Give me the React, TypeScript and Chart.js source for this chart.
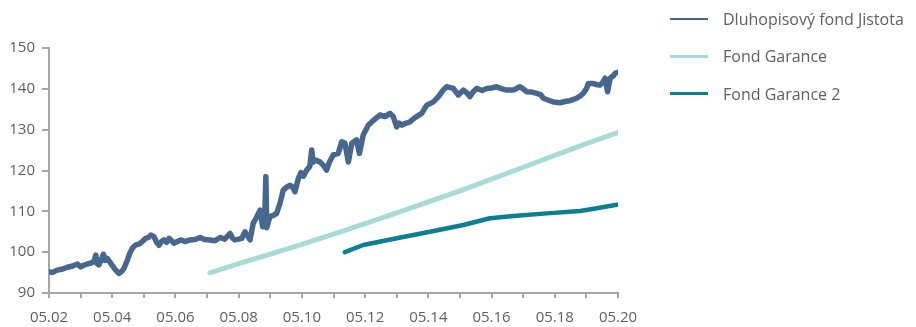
import React, { useEffect, useRef } from 'react';
import { Chart, registerables } from 'chart.js';

Chart.register(...registerables);

const seriesNames = ['Dluhopisový fond Jistota', 'Fond Garance', 'Fond Garance 2'];
const seriesColors = ['#48678f', '#a8dbd7', '#0c7f92'];

const xTicks = [2002, 2003, 2004, 2005, 2006, 2007, 2008, 2009, 2010, 2011, 2012, 2013, 2014, 2015, 2016, 2017, 2018, 2019, 2020];
const xTickLabels = ['05.02', '', '05.04', '', '05.06', '', '05.08', '', '05.10', '', '05.12', '', '05.14', '', '05.16', '', '05.18', '', '05.20'];
const yTicks = [90, 100, 110, 120, 130, 140, 150];
const yTickLabels = ['90', '100', '110', '120', '130', '140', '150'];

const jistotaX = [
  2002.00, 2002.10, 2002.26, 2002.40, 2002.58, 2002.75, 2002.90, 2003.00, 2003.10, 2003.21,
  2003.32, 2003.42, 2003.48, 2003.52, 2003.58, 2003.66, 2003.72, 2003.78, 2003.84, 2003.95,
  2004.05, 2004.11, 2004.21, 2004.30, 2004.37, 2004.48, 2004.56, 2004.64, 2004.75, 2004.85,
  2004.95, 2005.06, 2005.15, 2005.22, 2005.32, 2005.40, 2005.48, 2005.56, 2005.64, 2005.72,
  2005.80, 2005.88, 2005.95, 2006.06, 2006.17, 2006.30, 2006.46, 2006.62, 2006.78, 2006.92,
  2007.09, 2007.25, 2007.41, 2007.56, 2007.73, 2007.80, 2007.88, 2008.00, 2008.10, 2008.20,
  2008.28, 2008.36, 2008.46, 2008.55, 2008.68, 2008.76, 2008.82, 2008.86, 2008.89, 2008.94,
  2008.99, 2009.10, 2009.20, 2009.31, 2009.41, 2009.50, 2009.62, 2009.70, 2009.78, 2009.89,
  2009.97, 2010.05, 2010.15, 2010.25, 2010.31, 2010.35, 2010.41, 2010.57, 2010.68, 2010.78,
  2010.88, 2010.99, 2011.15, 2011.26, 2011.36, 2011.47, 2011.58, 2011.73, 2011.82, 2011.94,
  2012.10, 2012.21, 2012.35, 2012.47, 2012.63, 2012.79, 2012.89, 2013.00, 2013.08, 2013.16,
  2013.26, 2013.42, 2013.52, 2013.63, 2013.79, 2013.95, 2014.16, 2014.32, 2014.47, 2014.58,
  2014.70, 2014.79, 2014.95, 2015.11, 2015.22, 2015.32, 2015.42, 2015.53, 2015.70, 2015.85,
  2016.00, 2016.16, 2016.32, 2016.48, 2016.69, 2016.90, 2017.00, 2017.11, 2017.27, 2017.43,
  2017.55, 2017.64, 2017.80, 2017.95, 2018.17, 2018.32, 2018.48, 2018.69, 2018.80, 2018.90,
  2019.00, 2019.06, 2019.22, 2019.35, 2019.43, 2019.52, 2019.59, 2019.67, 2019.75, 2019.85,
  2019.91, 2019.97,
];
const jistotaY = [
  95.2, 95.0, 95.6, 95.8, 96.3, 96.6, 97.1, 96.4, 96.8, 97.1,
  97.3, 97.7, 99.3, 97.2, 96.9, 98.2, 99.5, 98.0, 98.5, 97.3,
  96.2, 95.6, 94.8, 95.3, 96.0, 98.1, 99.8, 101.0, 101.8, 102.0,
  102.6, 103.4, 103.6, 104.2, 103.8, 102.5, 101.7, 102.6, 103.0, 102.4,
  103.4, 102.8, 102.2, 102.6, 103.0, 102.6, 103.0, 103.1, 103.6, 103.1,
  103.0, 102.8, 103.6, 103.2, 104.6, 103.5, 103.0, 103.2, 103.4, 105.0,
  104.0, 103.0, 107.1, 108.3, 110.3, 106.2, 107.5, 118.5, 106.0, 107.5,
  108.7, 109.0, 109.5, 112.0, 115.2, 115.8, 116.4, 116.0, 114.8, 118.1,
  119.5, 118.6, 120.1, 121.0, 125.0, 122.0, 122.6, 122.1, 121.3, 120.1,
  122.2, 123.8, 124.2, 127.0, 126.7, 122.1, 126.7, 127.5, 124.2, 128.7,
  131.1, 131.9, 132.8, 133.6, 133.2, 134.0, 133.2, 130.7, 131.6, 131.1,
  131.5, 131.9, 132.6, 133.2, 134.0, 136.0, 136.8, 138.1, 139.7, 140.5,
  140.3, 140.1, 138.5, 139.7, 139.0, 138.1, 139.3, 140.1, 139.6, 140.1,
  140.2, 140.5, 140.0, 139.7, 139.7, 140.5, 140.0, 139.3, 139.2, 138.9,
  138.6, 137.7, 137.2, 136.8, 136.6, 136.9, 137.1, 137.7, 138.2, 138.9,
  140.0, 141.3, 141.3, 141.0, 140.9, 141.6, 142.6, 139.3, 142.6, 143.2,
  143.8, 144.0,
];

const garanceX = [2007.09, 2008, 2009, 2010, 2011, 2012, 2013, 2014, 2015, 2016, 2017, 2018, 2019, 2019.97];
const garanceY = [94.9, 97.2, 99.5, 101.9, 104.4, 107.0, 109.6, 112.3, 115.0, 117.9, 120.8, 123.7, 126.6, 129.2];

const garance2X = [2011.36, 2011.94, 2013.0, 2014.05, 2015.11, 2015.95, 2016.69, 2017.75, 2018.8, 2019.33, 2019.91, 2019.97];
const garance2Y = [100.0, 101.75, 103.4, 105.0, 106.65, 108.3, 108.85, 109.5, 110.1, 110.75, 111.55, 111.6];

const FONT = '"Open Sans", sans-serif';
const AXIS_COLOR = '#a6a6a6';
const TEXT_COLOR = '#5f5f5f';

const toPoints = (xs: number[], ys: number[]) => xs.map((x, i) => ({ x, y: ys[i] }));

export default function App() {
  const ref = useRef<HTMLCanvasElement>(null);

  useEffect(() => {
    const lineStyle = (i: number, w: number) => ({
      label: seriesNames[i],
      borderColor: seriesColors[i],
      backgroundColor: seriesColors[i],
      borderWidth: w,
      pointRadius: 0,
      tension: 0,
      borderCapStyle: 'round' as const,
      borderJoinStyle: 'round' as const,
      fill: false,
    });
    const chart = new Chart(ref.current!, {
      type: 'line',
      data: {
        datasets: [
          { ...lineStyle(1, 5), data: toPoints(garanceX, garanceY) },
          { ...lineStyle(2, 4.5), data: toPoints(garance2X, garance2Y) },
          { ...lineStyle(0, 5.5), data: toPoints(jistotaX, jistotaY) },
        ],
      },
      options: {
        responsive: false,
        animation: false,
        layout: { padding: { left: 0, top: 48, right: 298, bottom: 0 } },
        plugins: { legend: { display: false }, tooltip: { enabled: false } },
        scales: {
          x: {
            type: 'linear',
            min: 2002,
            max: 2020,
            afterBuildTicks: (s: any) => {
              s.ticks = xTicks.map((v) => ({ value: v }));
            },
            afterFit: (s: any) => {
              s.height = 34;
            },
            grid: { drawOnChartArea: false, drawTicks: true, tickLength: 5, color: AXIS_COLOR, lineWidth: 2 },
            border: { display: true, color: AXIS_COLOR, width: 2 },
            ticks: {
              autoSkip: false,
              maxRotation: 0,
              padding: 11,
              color: TEXT_COLOR,
              font: { family: FONT, size: 15 },
              callback: (_v: any, i: number) => xTickLabels[i],
            },
          },
          y: {
            type: 'linear',
            min: 90,
            max: 150,
            afterBuildTicks: (s: any) => {
              s.ticks = yTicks.map((v) => ({ value: v }));
            },
            afterFit: (s: any) => {
              s.width = 49;
            },
            grid: { drawOnChartArea: false, drawTicks: true, tickLength: 7, color: AXIS_COLOR, lineWidth: 2 },
            border: { display: true, color: AXIS_COLOR, width: 2 },
            ticks: {
              padding: 7,
              color: TEXT_COLOR,
              font: { family: FONT, size: 15 },
              callback: (_v: any, i: number) => yTickLabels[i],
            },
          },
        },
      },
    });
    return () => chart.destroy();
  }, []);

  return (
    <div style={{ position: 'absolute', left: 0, top: 0, width: 916, height: 327, background: '#fff', overflow: 'hidden' }}>
      <canvas ref={ref} width={916} height={327} style={{ display: 'block', width: 916, height: 327 }} />
      {seriesNames.map((name, i) => (
        <div
          key={name}
          style={{
            position: 'absolute',
            left: 670,
            top: 9 + i * 37.3,
            height: 20,
            display: 'flex',
            alignItems: 'center',
            whiteSpace: 'nowrap',
          }}
        >
          <div style={{ width: 38, height: 2.5, background: seriesColors[i], marginRight: 15 }} />
          <span style={{ fontFamily: FONT, fontSize: 16, color: TEXT_COLOR }}>{name}</span>
        </div>
      ))}
    </div>
  );
}
